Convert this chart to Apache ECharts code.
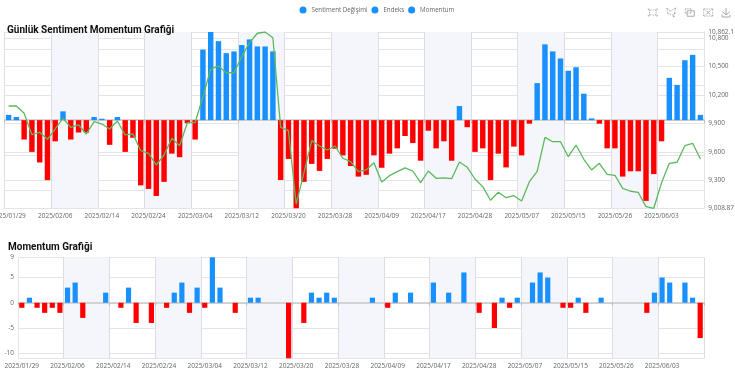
<!DOCTYPE html>
<html><head><meta charset="utf-8">
<script src="https://cdn.jsdelivr.net/npm/echarts@6/dist/echarts.min.js"></script>
<style>html,body{margin:0;padding:0;background:#fff}#c{width:735px;height:373px}</style></head>
<body><div id="c"></div>
<script>
const dates = ['2025/01/29','2025/01/30','2025/01/31','2025/02/03','2025/02/04','2025/02/05','2025/02/06','2025/02/07','2025/02/10','2025/02/11','2025/02/12','2025/02/13','2025/02/14','2025/02/17','2025/02/18','2025/02/19','2025/02/20','2025/02/21','2025/02/24','2025/02/25','2025/02/26','2025/02/27','2025/02/28','2025/03/03','2025/03/04','2025/03/05','2025/03/06','2025/03/07','2025/03/10','2025/03/11','2025/03/12','2025/03/13','2025/03/14','2025/03/17','2025/03/18','2025/03/19','2025/03/20','2025/03/21','2025/03/24','2025/03/25','2025/03/26','2025/03/27','2025/03/28','2025/04/02','2025/04/03','2025/04/04','2025/04/07','2025/04/08','2025/04/09','2025/04/10','2025/04/11','2025/04/14','2025/04/15','2025/04/16','2025/04/17','2025/04/18','2025/04/21','2025/04/22','2025/04/24','2025/04/25','2025/04/28','2025/04/29','2025/04/30','2025/05/02','2025/05/05','2025/05/06','2025/05/07','2025/05/08','2025/05/09','2025/05/12','2025/05/13','2025/05/14','2025/05/15','2025/05/16','2025/05/20','2025/05/21','2025/05/22','2025/05/23','2025/05/26','2025/05/27','2025/05/28','2025/05/29','2025/05/30','2025/06/02','2025/06/03','2025/06/04','2025/06/05','2025/06/10','2025/06/11','2025/06/12'];
const sentimentChange = [1.5,0.9,-5.5,-9,-12,-17,-6,2.5,-5.5,-3.5,-3.5,0.9,0.4,-7,0.9,-9,-5,-18.5,-19.5,-21.5,-17.5,-9.5,-10.5,-0.9,-5.5,20,25,22.4,19,19.5,21.3,22.9,20.9,20.9,19.5,-17,-11,-25,-17.5,-12.4,-14.4,-11,-8.1,-10,-13,-16,-15.5,-10,-13.5,-9.5,-8,-4.5,-6.5,-11.5,-3,-8,-6,-11.5,4,-2,-9,-8,-17,-9.5,-13.4,-7.5,-10,-1,10.5,21.5,19.5,17.5,14,15,7.5,0.5,-1,-8,-8,-16,-14.5,-14.5,-22.9,-15.3,-6,12,10,17,18.5,1.5];
const indexValues = [10084,10084,10008,9783,9808,9734,9843,9955,9860,9885,9790,9919,9895,9843,9927,9780,9790,9614,9587,9464,9569,9745,9667,9909,9909,10182,10470,10505,10434,10434,10603,10750,10849,10862.1,10802,9860,9825,9054,9383,9720,9664,9622,9664,9535,9499,9394,9412,9488,9285,9352,9394,9433,9401,9278,9401,9324,9328,9320,9496,9440,9317,9236,9093,9177,9120,9141,9086,9289,9398,9755,9709,9709,9551,9674,9524,9412,9482,9366,9356,9219,9188,9177,9026,9008.87,9278,9482,9493,9667,9692,9527];
const momentum = [-1,1,-1,-2,-1,-2,3,4,-3,0,0,2,0,-1,3,-4,0,-4,0,-1,2,4,-2,3,-1,9,3,0,-2,0,1,1,0,0,0,-11,0,-4,2,1,2,1,0,0,0,0,1,0,-1,2,0,2,0,0,4,0,2,0,6,0,-2,0,-5,1,-1,1,0,4,6,5,0,-1,-1,1,-2,0,1,0,0,0,0,0,-2,2,5,4,0,4,1,-7];
const legendNames = ['Sentiment Değişimi','Endeks','Momentum'];
const titles = ['Günlük Sentiment Momentum Grafiği','Momentum Grafiği'];
const sentimentTicks = [-25,-20,-10,0,10,20,25];
const indexTicks = [9008.87,9300,9600,9900,10200,10500,10800,10862.1];
const indexLabels = [9008.87,9300,9600,9900,10200,10500,10800];
const indexMaxLabel = [10862.1];
const momentumTicks = [-11,-10,-5,0,5,9];
const momentumLabels = [-10,-5,0,5,9];
const BLUE = '#1890ff', RED = '#ff0000', GREY = '#666', GRID = '#e3e4ea';
const FONT = '"Open Sans","Noto Sans",sans-serif';
const barColor = p => p.value >= 0 ? BLUE : RED;
const lab = {fontSize: 6.5, color: GREY, fontFamily: FONT};
const money = v => v.toLocaleString('en-US',{maximumFractionDigits:2});

function xAxes(gridIndex) {
  return [
    {type:'category', gridIndex, data:dates, boundaryGap:true,
     axisLabel:{show:false}, axisTick:{show:true, interval:5, length:3, lineStyle:{color:'#bbb'}},
     axisLine:{show:true, onZero:true, lineStyle:{color:'#c8c8c8', width:1.5}}, splitLine:{show:false}},
    {type:'category', gridIndex, data:dates, boundaryGap:true, position:'bottom',
     axisLabel:{show:true, interval:5, hideOverlap:false, margin:4, showMinLabel:true, ...lab},
     axisTick:{show:false},
     axisLine:{show:true, onZero:false, lineStyle:{color:GRID}},
     splitLine:{show:true, interval:5, lineStyle:{color:'#dddde3'}},
     splitArea:{show:true, interval:5, areaStyle:{color:['rgba(255,255,255,0)','#f5f6fb']}}}
  ];
}

const chart = echarts.init(document.getElementById('c'), null, {renderer:'canvas'});
chart.setOption({
  animation:false,
  backgroundColor:'#fff',
  color:[BLUE],
  title:[
    {text:titles[0], left:7, top:25.5, padding:0, textStyle:{fontSize:10, fontWeight:'bold', color:'#111', fontFamily:'Roboto'}},
    {text:titles[1], left:8, top:242, padding:0, textStyle:{fontSize:10, fontWeight:'bold', color:'#111', fontFamily:'Roboto'}}
  ],
  legend:{top:6.5, left:299.5, padding:0, itemWidth:7, itemHeight:7, itemGap:4, icon:'circle',
    data:legendNames.map(name => ({name, itemStyle:{color:BLUE}})),
    textStyle:{fontSize:6.2, color:GREY, fontFamily:FONT}},
  toolbox:{right:2.5, top:5.5, padding:0, itemSize:9, itemGap:4.5,
    iconStyle:{borderColor:'#aaa'},
    feature:{brush:{type:['rect','polygon','keep','clear']}, saveAsImage:{}}},
  brush:{toolbox:['rect','polygon','keep','clear'], xAxisIndex:'all'},
  grid:[
    {left:4.7, right:30.7, top:32, height:176.3, show:false, outerBoundsMode:'none', containLabel:false},
    {left:18, right:31, top:257.3, height:101, show:false, outerBoundsMode:'none', containLabel:false}
  ],
  xAxis:[...xAxes(0), ...xAxes(1)],
  yAxis:[
    {type:'value', gridIndex:0, min:-25, max:25, position:'left',
     axisLabel:{show:false}, axisLine:{show:false},
     axisTick:{show:false, customValues:sentimentTicks},
     splitLine:{show:true, lineStyle:{color:GRID}}},
    {type:'value', gridIndex:0, min:9008.87, max:10862.1, position:'right',
     axisLabel:{show:true, margin:4, customValues:indexLabels, showMinLabel:true, showMaxLabel:true, hideOverlap:false,
       formatter:money, ...lab},
     axisLine:{show:true, lineStyle:{color:GRID}},
     axisTick:{show:false, customValues:indexTicks},
     splitLine:{show:true, lineStyle:{color:GRID}}},
    {type:'value', gridIndex:1, min:-11, max:9, position:'left',
     axisLabel:{show:true, margin:4, customValues:momentumLabels, ...lab},
     axisLine:{show:true, lineStyle:{color:GRID}},
     axisTick:{show:false, customValues:momentumTicks},
     splitLine:{show:true, lineStyle:{color:GRID}}},
    {type:'value', gridIndex:0, min:9008.87, max:10862.1, position:'right',
     axisLabel:{show:true, margin:4, customValues:indexMaxLabel, showMaxLabel:true, formatter:money, ...lab},
     axisLine:{show:false}, axisTick:{show:false}, splitLine:{show:false}}
  ],
  series:[
    {name:legendNames[0], type:'bar', xAxisIndex:0, yAxisIndex:0, data:sentimentChange, barWidth:'70%',
     itemStyle:{color:barColor}},
    {name:legendNames[1], type:'line', xAxisIndex:0, yAxisIndex:1, data:indexValues, showSymbol:false, symbol:'none',
     lineStyle:{color:'#5cb85c', width:1.3}, itemStyle:{color:BLUE}, z:5},
    {name:legendNames[2], type:'bar', xAxisIndex:2, yAxisIndex:2, data:momentum, barWidth:'68%',
     itemStyle:{color:barColor}}
  ]
});
</script></body></html>
